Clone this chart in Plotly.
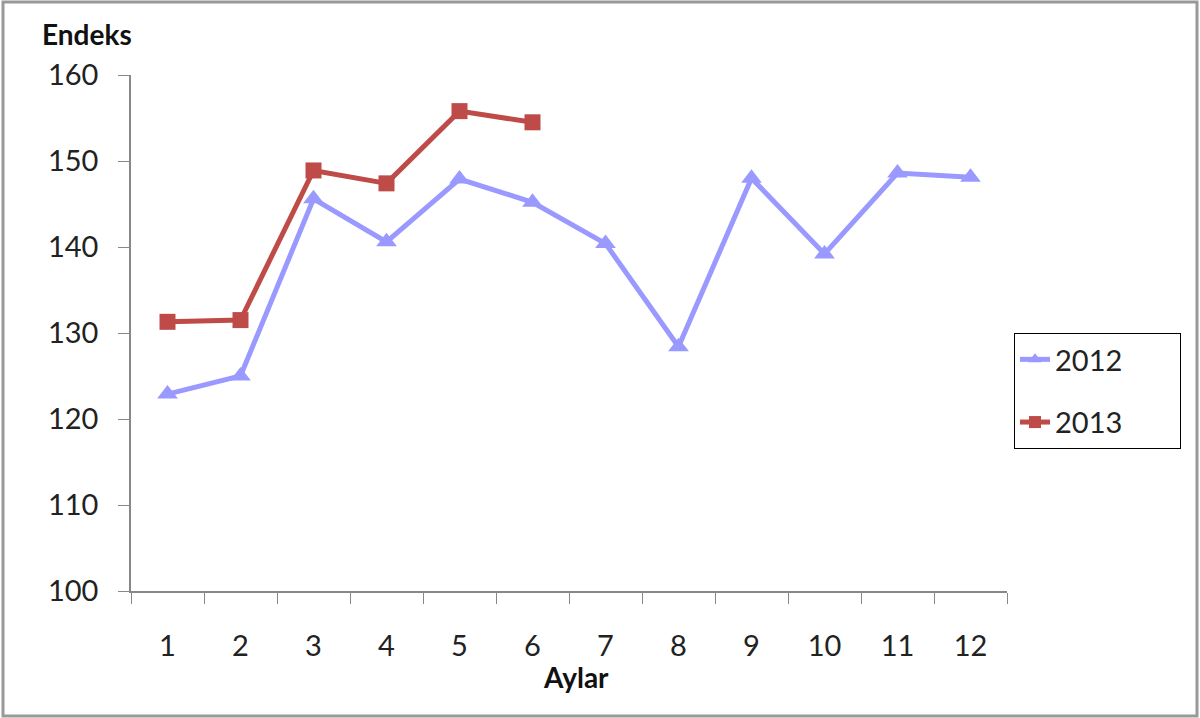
import plotly.graph_objects as go

months = ["1", "2", "3", "4", "5", "6", "7", "8", "9", "10", "11", "12"]
y2012 = [122.9, 125.0, 145.6, 140.6, 147.9, 145.2, 140.4, 128.4, 148.0, 139.2, 148.6, 148.1]
months2013 = ["1", "2", "3", "4", "5", "6"]
y2013 = [131.3, 131.5, 148.9, 147.4, 155.8, 154.5]
series_names = ["2012", "2013"]

W, H = 1200, 718
L, R, T, B = 131, 193, 75, 127
pw, ph = W - L - R, H - T - B
pad = "\u00a0" * 7

fig = go.Figure()
fig.add_trace(go.Scatter(
    x=months, y=y2012, name=series_names[0] + pad, mode="lines+markers", legendgroup="a",
    line=dict(color="#9999FF", width=5),
    marker=dict(symbol="triangle-up", size=18, color="#9999FF"),
))
fig.add_trace(go.Scatter(
    x=months2013, y=y2013, name=series_names[1] + pad, mode="lines+markers", legendgroup="b",
    line=dict(color="#BE4B48", width=5),
    marker=dict(symbol="square", size=16, color="#BE4B48"),
))

font_family = "Lato, 'Open Sans', sans-serif"
FS = 29

fig.update_layout(
    width=W, height=H,
    margin=dict(l=L, r=R, t=T, b=B, autoexpand=False),
    paper_bgcolor="white", plot_bgcolor="white",
    font=dict(family=font_family, size=FS, color="#222222"),
    showlegend=True,
    legend=dict(
        x=(1014 - L) / pw, y=(H - B - 333) / ph, xanchor="left", yanchor="top",
        bordercolor="black", borderwidth=1, bgcolor="white",
        font=dict(size=FS, color="#222222"),
        tracegroupgap=22, itemsizing="constant",
    ),
    xaxis=dict(
        type="category", categoryorder="array", categoryarray=months,
        range=[-0.5, 11.5],
        tickson="boundaries", ticks="outside", ticklen=11, tickcolor="#888888",
        showline=True, linecolor="#888888", linewidth=1.5,
        showgrid=False, zeroline=False,
        ticklabelstandoff=28,
        tickfont=dict(size=FS),
    ),
    yaxis=dict(
        range=[100, 160], tickvals=[100, 110, 120, 130, 140, 150, 160],
        ticks="outside", ticklen=11, tickcolor="#888888",
        showline=True, linecolor="#888888", linewidth=1.5,
        showgrid=False, zeroline=False,
        ticklabelstandoff=14,
        tickfont=dict(size=FS),
    ),
    annotations=[
        dict(text="<b>Endeks</b>", xref="paper", yref="paper",
             x=(40 - L) / pw, y=(H - B - 34) / ph, xanchor="left", yanchor="middle",
             showarrow=False, font=dict(size=28, color="#111111")),
        dict(text="<b>Aylar</b>", xref="paper", yref="paper",
             x=(576 - L) / pw, y=(H - B - 677) / ph, xanchor="center", yanchor="middle",
             showarrow=False, font=dict(size=28, color="#111111")),
    ],
    shapes=[
        dict(type="rect", xref="paper", yref="paper",
             x0=(3 - L) / pw, x1=(1197 - L) / pw,
             y0=(H - B - 716) / ph, y1=(H - B - 2) / ph,
             line=dict(color="#999999", width=3), fillcolor="rgba(0,0,0,0)", layer="below"),
    ],
)

fig.write_html("out.html")
